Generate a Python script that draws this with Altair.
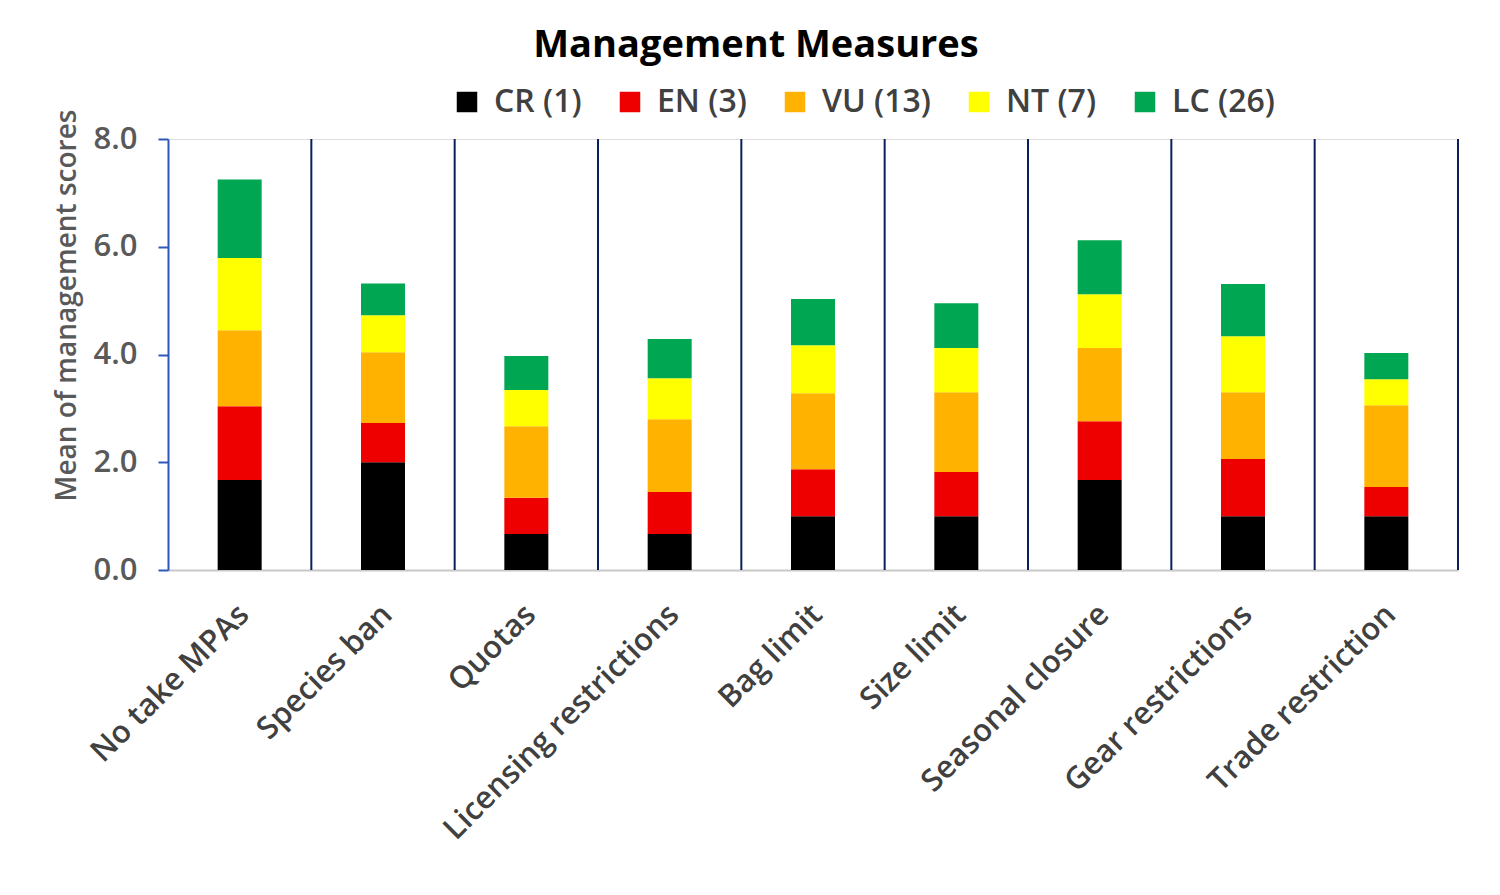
import altair as alt
import pandas as pd

measures = ["No take MPAs", "Species ban", "Quotas", "Licensing restrictions",
            "Bag limit", "Size limit", "Seasonal closure", "Gear restrictions",
            "Trade restriction"]
groups = ["CR (1)", "EN (3)", "VU (13)", "NT (7)", "LC (26)"]
colors = ["#000000", "#EE0000", "#FFB300", "#FFFF00", "#00A651"]

cr = [1.67, 2.00, 0.67, 0.67, 1.00, 1.00, 1.67, 1.00, 1.00]
en = [1.37, 0.73, 0.67, 0.78, 0.87, 0.82, 1.09, 1.06, 0.54]
vu = [1.41, 1.31, 1.33, 1.35, 1.41, 1.48, 1.36, 1.24, 1.52]
nt = [1.34, 0.69, 0.67, 0.76, 0.89, 0.82, 1.00, 1.04, 0.48]
lc = [1.46, 0.59, 0.63, 0.73, 0.86, 0.83, 1.00, 0.97, 0.49]

series = [cr, en, vu, nt, lc]
rows = []
for gi, (g, vals) in enumerate(zip(groups, series)):
    for m, v in zip(measures, vals):
        rows.append({"measure": m, "group": g, "value": v, "order": gi})
df = pd.DataFrame(rows)
div_df = pd.DataFrame({"measure": measures})

FONT = "Open Sans"

x_enc = alt.X("measure:N", sort=measures, title=None,
              scale=alt.Scale(paddingInner=0, paddingOuter=0),
              axis=alt.Axis(labelAngle=-45, labelFontSize=31, labelFont=FONT,
                            labelFontWeight=600, labelColor="#404040",
                            ticks=False, domainColor="#C8C8C8", domainWidth=2,
                            labelPadding=29, labelOffset=-6, labelLimit=500))

bars = alt.Chart(df).mark_bar(size=44).encode(
    x=x_enc,
    y=alt.Y("value:Q", stack="zero", title="Mean of management scores",
            scale=alt.Scale(domain=[0, 8], nice=False),
            axis=alt.Axis(values=[0, 2, 4, 6, 8], format=".1f", grid=False,
                          labelFontSize=31, labelFont=FONT, labelFontWeight=600,
                          labelColor="#595959", domainColor="#2E59B8", domainWidth=2,
                          tickColor="#2E59B8", tickWidth=2, tickSize=10,
                          labelPadding=21,
                          titleFontSize=28, titleFont=FONT, titleFontWeight=600,
                          titleColor="#595959", titlePadding=12, titleY=166)),
    color=alt.Color("group:N", sort=groups,
                    scale=alt.Scale(domain=groups, range=colors),
                    legend=alt.Legend(title=None, orient="none", direction="horizontal",
                                      legendX=283, legendY=-53,
                                      symbolType="square", symbolSize=420,
                                      symbolStrokeWidth=0,
                                      labelFontSize=32, labelFont=FONT,
                                      labelFontWeight=600, labelColor="#404040",
                                      columnPadding=32, labelOffset=11)),
    order=alt.Order("order:Q", sort="ascending"),
)

dividers = alt.Chart(div_df).mark_rule(color="#0B1F5C", strokeWidth=2).encode(
    x=alt.X("measure:N", sort=measures, bandPosition=1),
)

chart = alt.layer(bars, dividers).properties(
    width=1290, height=431,
    title=alt.TitleParams("Management Measures", fontSize=38, font=FONT,
                          fontWeight="bold", color="#000000", dx=-57, offset=21,
                          frame="group", anchor="middle"),
    autosize=alt.AutoSizeParams(type="none"),
    padding={"left": 160, "top": 131, "right": 34, "bottom": 317},
).configure_view(stroke=None).configure(background="white")

chart.save("out.html", embed_options={"renderer": "svg", "actions": False})
